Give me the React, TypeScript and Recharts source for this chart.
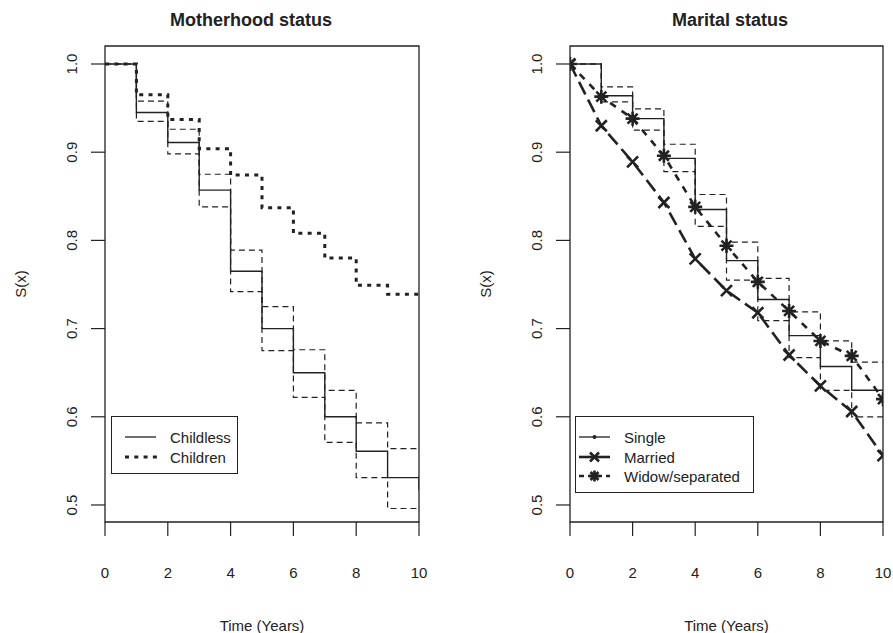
import React from 'react';
import { LineChart, Line, XAxis, YAxis, ReferenceArea, Legend } from 'recharts';

// ---------- data ----------
const years = [0, 1, 2, 3, 4, 5, 6, 7, 8, 9, 10];

// Motherhood status
const childless = [1, 0.945, 0.911, 0.857, 0.765, 0.700, 0.650, 0.600, 0.561, 0.531, 0.517];
const childlessUpper = [1, 0.958, 0.926, 0.875, 0.789, 0.725, 0.676, 0.630, 0.593, 0.564, 0.564];
const childlessLower = [1, 0.935, 0.898, 0.838, 0.742, 0.675, 0.622, 0.571, 0.531, 0.496, 0.496];
const children = [1, 0.965, 0.937, 0.904, 0.874, 0.837, 0.808, 0.780, 0.749, 0.739, 0.736];

// Marital status
const single = [1, 0.964, 0.938, 0.893, 0.835, 0.777, 0.733, 0.692, 0.657, 0.630, 0.630];
const singleUpper = [1, 0.974, 0.949, 0.909, 0.852, 0.798, 0.757, 0.719, 0.686, 0.662, 0.662];
const singleLower = [1, 0.957, 0.925, 0.878, 0.816, 0.755, 0.709, 0.667, 0.630, 0.600, 0.600];
const married = [1, 0.930, 0.889, 0.843, 0.779, 0.743, 0.718, 0.670, 0.635, 0.606, 0.556];
const widow = [1, 0.963, 0.938, 0.896, 0.838, 0.794, 0.753, 0.720, 0.686, 0.669, 0.620];

const xTicks = [0, 2, 4, 6, 8, 10];
const yTicks = [0.5, 0.6, 0.7, 0.8, 0.9, 1.0];
const yDomain = [0.4807, 1.0204];

const leftTitle = 'Motherhood status';
const rightTitle = 'Marital status';
const xLabel = 'Time (Years)';
const yLabel = 'S(x)';
const leftLegendLabels = ['Childless', 'Children'];
const rightLegendLabels = ['Single', 'Married', 'Widow/separated'];

const leftData = years.map((t, i) => ({
  t,
  childless: childless[i],
  childlessUpper: childlessUpper[i],
  childlessLower: childlessLower[i],
  children: children[i],
}));

const rightData = years.map((t, i) => ({
  t,
  single: single[i],
  singleUpper: singleUpper[i],
  singleLower: singleLower[i],
  married: married[i],
  widow: widow[i],
}));

// ---------- styles ----------
const INK = '#222';
const FONT = '"Liberation Sans", Arial, Helvetica, sans-serif';

const xPath = (cx: number, cy: number, h: number) =>
  `M${cx - h},${cy - h}L${cx + h},${cy + h}M${cx - h},${cy + h}L${cx + h},${cy - h}`;
const starPath = (cx: number, cy: number, h: number, a: number) =>
  xPath(cx, cy, h) + `M${cx},${cy - a}L${cx},${cy + a}M${cx - a},${cy}L${cx + a},${cy}`;

const XMarker = (props: any) => {
  const { cx, cy, index } = props;
  if (cx == null || cy == null) return <g key={`xm-${index}`} />;
  return <path key={`xm-${index}`} d={xPath(cx, cy, 5.5)} stroke={INK} strokeWidth={2.6} fill="none" />;
};

const StarMarker = (props: any) => {
  const { cx, cy, index } = props;
  if (cx == null || cy == null) return <g key={`sm-${index}`} />;
  return <path key={`sm-${index}`} d={starPath(cx, cy, 5, 7)} stroke={INK} strokeWidth={2.6} fill="none" />;
};

const YTick = (props: any) => {
  const { x, y, payload } = props;
  return (
    <text
      x={x}
      y={y}
      transform={`rotate(-90 ${x} ${y})`}
      textAnchor="middle"
      dominantBaseline="central"
      fontSize={15}
      fill={INK}
      fontFamily={FONT}
    >
      {Number(payload.value).toFixed(1)}
    </text>
  );
};

const LeftLegend = () => (
  <div
    style={{
      width: 127,
      height: 58,
      border: `1px solid ${INK}`,
      boxSizing: 'border-box',
      background: '#fff',
      position: 'relative',
      fontSize: 15,
      color: INK,
      fontFamily: FONT,
    }}
  >
    <svg width={127} height={58} style={{ position: 'absolute', left: -1, top: -1 }}>
      <line x1={14} x2={45} y1={21} y2={21} stroke={INK} strokeWidth={1.3} />
      <line x1={14} x2={46} y1={41} y2={41} stroke={INK} strokeWidth={3} strokeDasharray="4 5.3" />
    </svg>
    {leftLegendLabels.map((l, i) => (
      <span
        key={l}
        style={{ position: 'absolute', left: 58, top: 21 + i * 20 - 1, transform: 'translateY(-50%)', lineHeight: 1, whiteSpace: 'nowrap' }}
      >
        {l}
      </span>
    ))}
  </div>
);

const RightLegend = () => (
  <div
    style={{
      width: 179,
      height: 77,
      border: `1px solid ${INK}`,
      boxSizing: 'border-box',
      background: '#fff',
      position: 'relative',
      fontSize: 15,
      color: INK,
      fontFamily: FONT,
    }}
  >
    <svg width={179} height={77} style={{ position: 'absolute', left: -1, top: -1 }}>
      <line x1={4} x2={35} y1={21} y2={21} stroke={INK} strokeWidth={1.3} />
      <circle cx={19.5} cy={21} r={2} fill={INK} />
      <line x1={4} x2={35} y1={41} y2={41} stroke={INK} strokeWidth={2.6} />
      <path d={xPath(19.5, 41, 4.5)} stroke={INK} strokeWidth={2.6} fill="none" />
      <line x1={4} x2={35} y1={60} y2={60} stroke={INK} strokeWidth={2.6} strokeDasharray="5 4" />
      <path d={starPath(19.5, 60, 4, 5.5)} stroke={INK} strokeWidth={2.6} fill="none" />
    </svg>
    {rightLegendLabels.map((l, i) => (
      <span
        key={l}
        style={{ position: 'absolute', left: 48, top: [21, 41, 60][i] - 1, transform: 'translateY(-50%)', lineHeight: 1, whiteSpace: 'nowrap' }}
      >
        {l}
      </span>
    ))}
  </div>
);

const textStyle = (x: number, y: number, extra: any = {}) => ({
  position: 'absolute' as const,
  left: x,
  top: y,
  transform: 'translate(-50%, -50%)' + (extra.rotate ? ' rotate(-90deg)' : ''),
  lineHeight: 1,
  whiteSpace: 'nowrap' as const,
  fontSize: extra.size || 15,
  fontWeight: extra.bold ? 700 : 400,
  color: INK,
});

const CH = 633;
const TOP = 46;
const XAXIS_H = 60;
const BOTTOM_M = CH - 522 - XAXIS_H;

export default function App() {
  return (
    <div
      style={{
        position: 'fixed',
        left: 0,
        top: 0,
        width: 893,
        height: 633,
        background: '#fff',
        fontFamily: FONT,
        overflow: 'hidden',
      }}
    >
      {/* Left panel */}
      <div style={{ position: 'absolute', left: 0, top: 0 }}>
        <LineChart width={446} height={CH} data={leftData} margin={{ top: TOP, right: 27, bottom: BOTTOM_M, left: 0 }}>
          <XAxis
            dataKey="t"
            type="number"
            domain={[0, 10]}
            ticks={xTicks}
            allowDataOverflow
            axisLine={false}
            tickSize={14}
            tickMargin={31}
            tickLine={{ stroke: INK, strokeWidth: 1.2 }}
            tick={{ fontSize: 15, fill: INK, fontFamily: FONT }}
            height={XAXIS_H}
          />
          <YAxis
            type="number"
            domain={yDomain}
            ticks={yTicks}
            allowDataOverflow
            axisLine={false}
            tickSize={14}
            tickMargin={19}
            tickLine={{ stroke: INK, strokeWidth: 1.2 }}
            tick={<YTick />}
            width={105}
          />
          <Line type="stepAfter" dataKey="childlessUpper" stroke={INK} strokeWidth={1.2} strokeDasharray="6 4" dot={false} isAnimationActive={false} />
          <Line type="stepAfter" dataKey="childlessLower" stroke={INK} strokeWidth={1.2} strokeDasharray="6 4" dot={false} isAnimationActive={false} />
          <Line type="stepAfter" dataKey="childless" stroke={INK} strokeWidth={1.4} dot={false} isAnimationActive={false} />
          <Line type="stepAfter" dataKey="children" stroke={INK} strokeWidth={3} strokeDasharray="4 5.3" dot={false} isAnimationActive={false} />
          <ReferenceArea x1={0} x2={10} y1={yDomain[0]} y2={yDomain[1]} fill="none" stroke={INK} strokeWidth={1.3} />
          <Legend
            layout="vertical"
            align="center"
            verticalAlign="middle"
            content={() => <LeftLegend />}
            wrapperStyle={{ left: 111, top: 416, width: 127, height: 58 }}
          />
        </LineChart>
      </div>

      {/* Right panel */}
      <div style={{ position: 'absolute', left: 446, top: 0 }}>
        <LineChart width={447} height={CH} data={rightData} margin={{ top: TOP, right: 10, bottom: BOTTOM_M, left: 0 }}>
          <XAxis
            dataKey="t"
            type="number"
            domain={[0, 10]}
            ticks={xTicks}
            allowDataOverflow
            axisLine={false}
            tickSize={14}
            tickMargin={31}
            tickLine={{ stroke: INK, strokeWidth: 1.2 }}
            tick={{ fontSize: 15, fill: INK, fontFamily: FONT }}
            height={XAXIS_H}
          />
          <YAxis
            type="number"
            domain={yDomain}
            ticks={yTicks}
            allowDataOverflow
            axisLine={false}
            tickSize={14}
            tickMargin={19}
            tickLine={{ stroke: INK, strokeWidth: 1.2 }}
            tick={<YTick />}
            width={124}
          />
          <Line type="stepAfter" dataKey="singleUpper" stroke={INK} strokeWidth={1.2} strokeDasharray="6 4" dot={false} isAnimationActive={false} />
          <Line type="stepAfter" dataKey="singleLower" stroke={INK} strokeWidth={1.2} strokeDasharray="6 4" dot={false} isAnimationActive={false} />
          <Line type="stepAfter" dataKey="single" stroke={INK} strokeWidth={1.4} dot={false} isAnimationActive={false} />
          <Line type="linear" dataKey="married" stroke={INK} strokeWidth={2.6} strokeDasharray="14 6" dot={<XMarker />} isAnimationActive={false} />
          <Line type="linear" dataKey="widow" stroke={INK} strokeWidth={2.6} strokeDasharray="7 7" dot={<StarMarker />} isAnimationActive={false} />
          <ReferenceArea x1={0} x2={10} y1={yDomain[0]} y2={yDomain[1]} fill="none" stroke={INK} strokeWidth={1.3} />
          <Legend
            layout="vertical"
            align="center"
            verticalAlign="middle"
            content={() => <RightLegend />}
            wrapperStyle={{ left: 129, top: 416, width: 179, height: 77 }}
          />
        </LineChart>
      </div>

      {/* Titles and axis labels */}
      <div style={textStyle(251, 20, { bold: true, size: 18 })}>{leftTitle}</div>
      <div style={textStyle(730, 20, { bold: true, size: 18 })}>{rightTitle}</div>
      <div style={textStyle(262, 625)}>{xLabel}</div>
      <div style={textStyle(726.5, 625)}>{xLabel}</div>
      <div style={textStyle(20, 284, { rotate: true })}>{yLabel}</div>
      <div style={textStyle(485, 284, { rotate: true })}>{yLabel}</div>
    </div>
  );
}
